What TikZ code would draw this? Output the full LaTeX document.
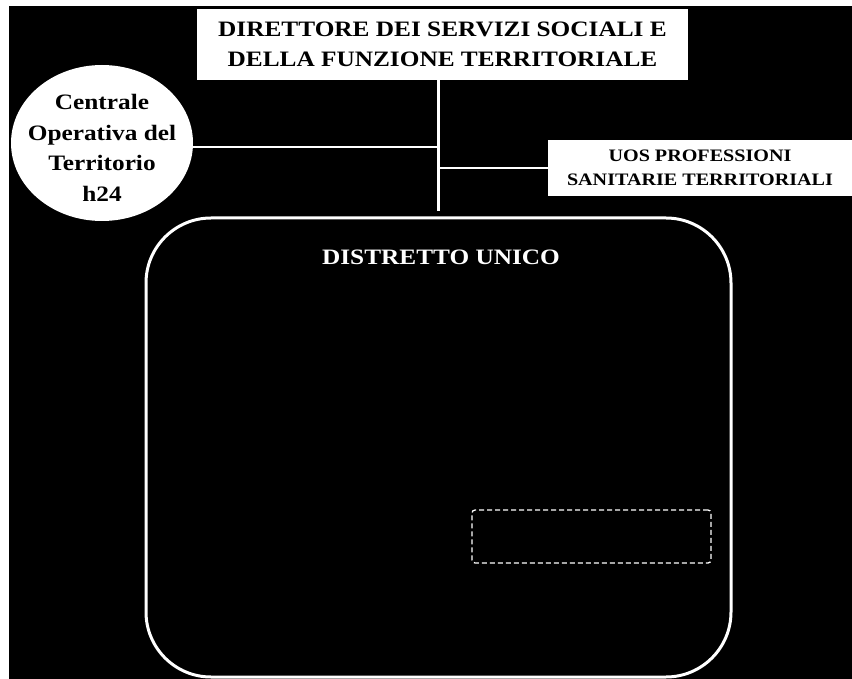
\documentclass[tikz,border=0pt]{standalone}
\usepackage{fontspec}
\setmainfont{Liberation Serif}[FakeStretch=1.15]
\usepackage{tikz}
\usetikzlibrary{shapes.geometric, positioning, calc}

\tikzset{
  whitebox/.style={draw=none, fill=white, text=black, align=center, inner sep=0pt,
    font=\bfseries\fontsize{22}{30}\selectfont},
  link/.style={draw=white, line width=2.5pt},
  distbox/.style={draw=white, line width=3pt, rounded corners=65pt, fill=black,
    minimum width=585pt, minimum height=459pt},
  emptybox/.style={draw=white, dash pattern=on 5pt off 3pt, line width=1.3pt, rounded corners=3pt,
    minimum width=239pt, minimum height=53pt}
}

\begin{document}
\begin{tikzpicture}[x=1pt, y=-1pt]
      \useasboundingbox (0,0) rectangle (852,679);
      \fill[white] (0,0) rectangle (852,679);
      \fill[black] (9,6) rectangle (852,679);

      % top of the chart
      \node[whitebox, minimum width=491pt, minimum height=71pt] (dir) at (442.5,44.5)
        {DIRETTORE DEI SERVIZI SOCIALI E\\DELLA FUNZIONE TERRITORIALE};

      \node[whitebox, ellipse, minimum width=182pt, minimum height=156pt] (coc) at (102,143) {};
      \node[align=center, font=\bfseries\fontsize{22}{30.5}\selectfont] (coclbl)
        at ([yshift=-5pt]coc.center) {Centrale\\Operativa del\\Territorio\\h24};

      \node[whitebox, minimum width=304pt, minimum height=56pt,
        font=\bfseries\fontsize{17.5}{24}\selectfont] (uos) at (700,168)
        {UOS PROFESSIONI\\SANITARIE TERRITORIALI};

      % district
      \node[distbox] (dist) at (438.5,447.5) {};
      \node[text=white, font=\bfseries\fontsize{22}{26}\selectfont] (distlbl) at (441,257)
        {DISTRETTO UNICO};
      \node[emptybox] (slot) at (591.5,536.5) {};

      \coordinate (trunkend) at ([yshift=5pt]dist.north);

      % director to district
      \draw[link] (dir.south -| trunkend) -- (trunkend);
      % centrale to trunk
      \draw[link] (coc.east |- 0,147) -- (trunkend |- 0,147);
      % uos to trunk
      \draw[link] (uos.west) -- (uos.west -| trunkend);
    \end{tikzpicture}
\end{document}
